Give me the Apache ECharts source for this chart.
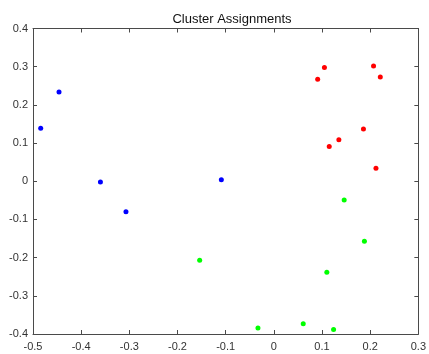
<!DOCTYPE html>
<html>
<head>
<meta charset="utf-8">
<script src="https://cdn.jsdelivr.net/npm/echarts@6/dist/echarts.min.js"></script>
<style>
  html, body { margin: 0; padding: 0; background: #fff; }
  #chart { width: 429px; height: 354px; }
</style>
</head>
<body>
<div id="chart"></div>
<script>
// cluster points, [x, y]
var cluster1 = [
  [-0.484, 0.139], [-0.446, 0.234], [-0.360, -0.002], [-0.307, -0.080], [-0.109, 0.004]
];
var cluster2 = [
  [0.105, 0.298], [0.091, 0.267], [0.207, 0.302], [0.221, 0.273],
  [0.186, 0.137], [0.135, 0.109], [0.115, 0.091], [0.212, 0.034]
];
var cluster3 = [
  [0.146, -0.049], [0.188, -0.157], [0.110, -0.238], [-0.154, -0.207],
  [-0.033, -0.384], [0.061, -0.373], [0.124, -0.388]
];
var clusterColors = ['#0000ff', '#ff0000', '#00ff00'];

var axisColor = '#4a4a4a';
var labelColor = '#333';
var fontFam = 'Liberation Sans, Arial, sans-serif';

function mkAxis(pos, min, max, showLabel) {
  return {
    type: 'value', position: pos, min: min, max: max, interval: 0.1,
    axisLine: { show: true, onZero: false, lineStyle: { color: axisColor, width: 1 } },
    axisTick: { show: true, inside: true, length: 4, lineStyle: { color: axisColor } },
    axisLabel: {
      show: showLabel, color: labelColor, fontSize: 11, fontFamily: fontFam,
      margin: pos === 'bottom' ? 7 : 5,
      formatter: function (v) { return Math.round(v * 10) / 10 + ''; }
    },
    splitLine: { show: false }
  };
}

var chart = echarts.init(document.getElementById('chart'));
chart.setOption({
  animation: false,
  title: {
    text: 'Cluster Assignments', left: 227, top: 8, textAlign: 'center',
    textStyle: { fontSize: 13, fontWeight: 'normal', color: '#111', fontFamily: fontFam }
  },
  grid: { left: 33, right: 9, top: 28.5, bottom: 20 },
  xAxis: [mkAxis('bottom', -0.5, 0.3, true), mkAxis('top', -0.5, 0.3, false)],
  yAxis: [mkAxis('left', -0.4, 0.4, true), mkAxis('right', -0.4, 0.4, false)],
  series: [cluster1, cluster2, cluster3].map(function (d, i) {
    return {
      type: 'scatter', data: d, symbolSize: 5,
      itemStyle: { color: clusterColors[i], opacity: 1 }
    };
  })
});
</script>
</body>
</html>
